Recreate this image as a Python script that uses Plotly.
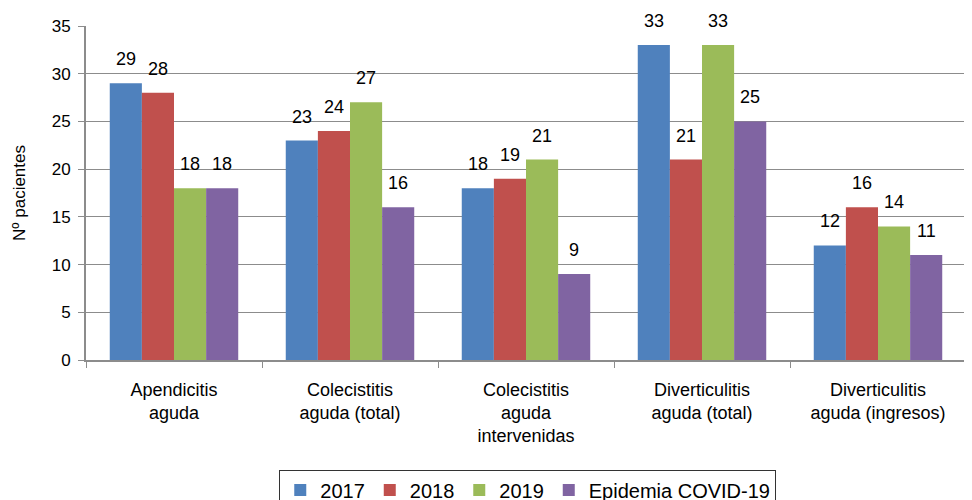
import plotly.graph_objects as go

categories = ["Apendicitis<br>aguda", "Colecistitis<br>aguda (total)",
              "Colecistitis<br>aguda<br>intervenidas", "Diverticulitis<br>aguda (total)",
              "Diverticulitis<br>aguda (ingresos)"]
series_names = ["2017", "2018", "2019", "Epidemia COVID-19"]
v2017 = [29, 23, 18, 33, 12]
v2018 = [28, 24, 19, 21, 16]
v2019 = [18, 27, 21, 33, 14]
vcovid = [18, 16, 9, 25, 11]
colors = ["#4F81BD", "#C0504D", "#9BBB59", "#8064A2"]

W, H = 964, 492
ML, MR, MT, MB = 78, 6, 18, 140
BARGAP = 0.27
all_series = [v2017, v2018, v2019, vcovid]
n = len(all_series)
cat_px = (W - ML - MR) / len(categories)
bar_px = cat_px * (1 - BARGAP) / n

fig = go.Figure()
for i, (name, vals, col) in enumerate(zip(series_names, all_series, colors)):
    fig.add_trace(go.Bar(
        x=categories, y=vals, name=name, marker=dict(color=col, line=dict(width=0)),
    ))
    shift = (i - (n - 1) / 2) * bar_px
    for c, v in zip(categories, vals):
        fig.add_annotation(x=c, y=v, text=str(v), showarrow=False,
                           xanchor="center", yanchor="bottom", xshift=shift, yshift=12,
                           font=dict(size=18, color="black"))

fig.update_layout(
    width=W, height=H,
    margin=dict(l=ML, r=MR, t=MT, b=MB, autoexpand=False),
    plot_bgcolor="white", paper_bgcolor="white",
    font=dict(family="Liberation Sans, Arial, sans-serif", size=17, color="black"),
    barmode="group", bargap=BARGAP, bargroupgap=0,
    showlegend=True,
    legend=dict(orientation="h", x=0.502, xanchor="center", y=-0.328, yanchor="top",
                bordercolor="#333333", borderwidth=1, font=dict(size=20),
                itemwidth=30, tracegroupgap=0,
                itemsizing="constant", traceorder="normal"),
    yaxis=dict(range=[0, 35], dtick=5, showgrid=True, gridcolor="#8c8c8c", gridwidth=1,
               showline=True, linecolor="#8c8c8c", linewidth=2, ticks="outside",
               tickcolor="#8c8c8c", ticklen=6, tickfont=dict(size=17), ticklabelstandoff=4,
               title=dict(text="Nº pacientes", font=dict(size=17), standoff=22),
               zeroline=False, automargin=False),
    xaxis=dict(showline=True, linecolor="#8c8c8c", linewidth=2, ticks="outside",
               tickson="boundaries", tickcolor="#8c8c8c", ticklen=6,
               tickfont=dict(size=18), ticklabelstandoff=12, automargin=False),
)

fig.write_html("out.html")
